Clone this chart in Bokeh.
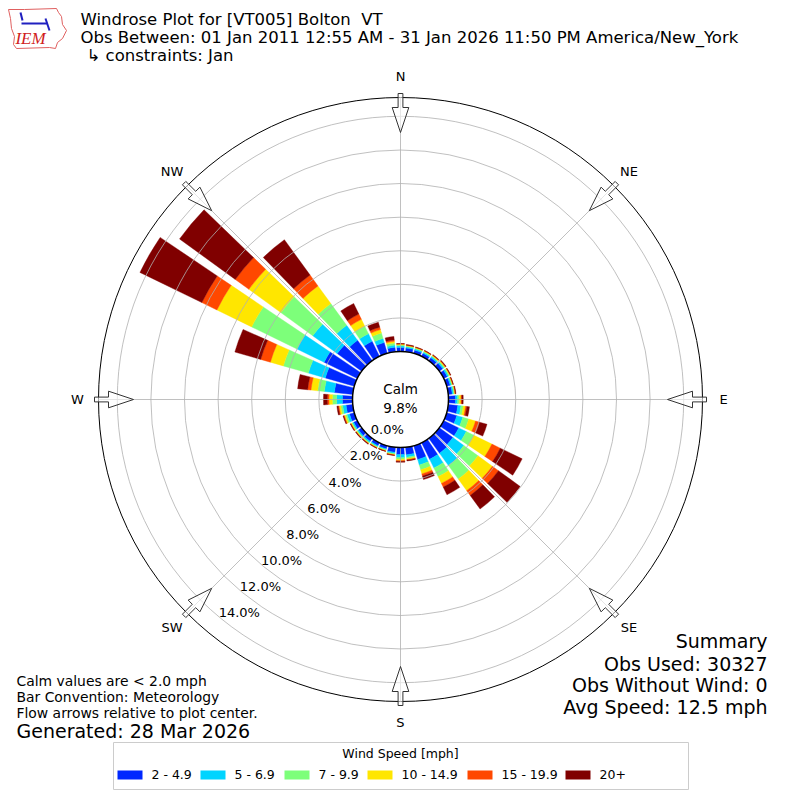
import numpy as np
from bokeh.plotting import figure
from bokeh.models import Range1d, ColumnDataSource
from bokeh.core.properties import value
from bokeh.embed import file_html
from bokeh.resources import INLINE

# ---------------- data ----------------
directions = [0, 10, 20, 30, 40, 50, 60, 70, 80, 90, 100, 110, 120, 130, 140, 150, 160, 170,
              180, 190, 200, 210, 220, 230, 240, 250, 260, 270, 280, 290, 300, 310, 320, 330, 340, 350]
speed_labels = ["2 - 4.9", "5 - 6.9", "7 - 9.9", "10 - 14.9", "15 - 19.9", "20+"]
speed_colors = ["#0028ff", "#00d4ff", "#7dff7a", "#ffe600", "#ff4800", "#800000"]

freq_2_4 = [0.24, 0.22, 0.20, 0.20, 0.22, 0.25, 0.24, 0.22, 0.24, 0.42, 0.57, 0.63, 1.00, 1.00, 1.10, 1.10, 0.86, 0.45,
            0.42, 0.30, 0.20, 0.20, 0.22, 0.23, 0.24, 0.30, 0.40, 0.60, 1.10, 1.80, 2.20, 1.80, 1.50, 1.00, 0.67, 0.27]
freq_5_6 = [0.10, 0.08, 0.08, 0.08, 0.08, 0.09, 0.09, 0.08, 0.08, 0.13, 0.19, 0.37, 0.50, 0.80, 0.90, 0.58, 0.34, 0.15,
            0.19, 0.08, 0.06, 0.07, 0.08, 0.08, 0.08, 0.15, 0.20, 0.35, 0.60, 1.05, 1.80, 1.80, 1.10, 0.50, 0.25, 0.13]
freq_7_9 = [0.06, 0.05, 0.05, 0.05, 0.05, 0.06, 0.06, 0.05, 0.06, 0.10, 0.14, 0.37, 0.50, 1.05, 1.00, 0.57, 0.30, 0.08,
            0.10, 0.05, 0.04, 0.04, 0.05, 0.05, 0.06, 0.10, 0.12, 0.25, 0.40, 1.55, 3.00, 2.35, 1.60, 0.50, 0.34, 0.13]
freq_10_14 = [0.04, 0.03, 0.03, 0.03, 0.04, 0.04, 0.04, 0.03, 0.03, 0.10, 0.13, 0.42, 1.20, 1.05, 0.85, 0.45, 0.25, 0.06,
              0.08, 0.03, 0.03, 0.03, 0.03, 0.04, 0.04, 0.07, 0.10, 0.20, 0.40, 0.80, 2.30, 2.35, 1.30, 0.45, 0.21, 0.10]
freq_15_19 = [0.02, 0.02, 0.02, 0.02, 0.02, 0.03, 0.02, 0.02, 0.02, 0.05, 0.08, 0.25, 0.55, 0.45, 0.35, 0.24, 0.13, 0.03,
              0.04, 0.02, 0.01, 0.02, 0.02, 0.02, 0.02, 0.04, 0.05, 0.10, 0.20, 0.60, 1.00, 1.00, 0.80, 0.35, 0.15, 0.08]
freq_20p = [0.02, 0.03, 0.02, 0.02, 0.03, 0.03, 0.03, 0.02, 0.03, 0.08, 0.16, 0.46, 1.45, 1.60, 1.00, 0.51, 0.22, 0.05,
            0.05, 0.02, 0.02, 0.02, 0.03, 0.03, 0.03, 0.04, 0.08, 0.23, 0.60, 1.60, 4.10, 4.10, 2.60, 0.70, 0.31, 0.21]

calm_pct = 9.8
ring_ticks = [0, 2, 4, 6, 8, 10, 12, 14]
ring_labels = ["0.0%", "2.0%", "4.0%", "6.0%", "8.0%", "10.0%", "12.0%", "14.0%"]
compass_labels = ["N", "NE", "E", "SE", "S", "SW", "W", "NW"]
compass_bearings = [0, 45, 90, 135, 180, 225, 270, 315]

title_lines = ["Windrose Plot for [VT005] Bolton\u00a0 VT",
               "Obs Between: 01 Jan 2011 12:55 AM - 31 Jan 2026 11:50 PM America/New_York",
               "\u21b3 constraints: Jan"]
notes_left = ["Calm values are < 2.0 mph", "Bar Convention: Meteorology",
              "Flow arrows relative to plot center."]
generated = "Generated: 28 Mar 2026"
summary_lines = ["Summary", "Obs Used: 30327", "Obs Without Wind: 0", "Avg Speed: 12.5 mph"]
legend_title = "Wind Speed [mph]"

# ---------------- geometry ----------------
S = 16.8          # pixels per percent
CX, CY = 400.0, 399.0
R0 = 48.0 / S     # calm hole radius (percent units)
R_OUT = 302.0 / S
BAR_W = 8.0       # degrees
W = H = 800


def X(px):
    return (px - CX) / S


def Y(py):
    return (CY - py) / S


FONT = value("DejaVu Sans")

p = figure(width=W, height=H, x_range=Range1d(X(0), X(W)), y_range=Range1d(Y(H), Y(0)),
           output_backend="svg", toolbar_location=None, min_border=0,
           x_axis_type=None, y_axis_type=None)
p.outline_line_color = None
p.background_fill_color = "white"
p.border_fill_color = "white"

# ---------------- bars ----------------
stack = np.array([freq_2_4, freq_5_6, freq_7_9, freq_10_14, freq_15_19, freq_20p])
cum = np.cumsum(stack, axis=0)
dirs = np.array(directions, dtype=float)
start = np.deg2rad(90.0 - dirs - BAR_W / 2)
end = np.deg2rad(90.0 - dirs + BAR_W / 2)
for j in range(6):
    inner = R0 + (cum[j - 1] if j > 0 else np.zeros(len(dirs)))
    outer = R0 + cum[j]
    src = ColumnDataSource(dict(x=np.zeros(len(dirs)), y=np.zeros(len(dirs)), ir=inner, orr=outer,
                                sa=start, ea=end))
    p.annular_wedge(x="x", y="y", inner_radius="ir", outer_radius="orr", start_angle="sa",
                    end_angle="ea", source=src, fill_color=speed_colors[j],
                    line_color=speed_colors[j], line_width=0.4)

# ---------------- grid ----------------
rt = np.array(ring_ticks, dtype=float)
p.circle(x=np.zeros(len(rt)), y=np.zeros(len(rt)), radius=R0 + rt, fill_color=None,
         line_color="#b0b0b0", line_width=0.8)
cb = np.deg2rad(np.array(compass_bearings, dtype=float))
p.segment(x0=R0 * np.sin(cb), y0=R0 * np.cos(cb), x1=R_OUT * np.sin(cb), y1=R_OUT * np.cos(cb),
          line_color="#b0b0b0", line_width=0.8)
p.circle(x=[0], y=[0], radius=R_OUT, fill_color=None, line_color="black", line_width=1)

# calm circle
p.circle(x=[0], y=[0], radius=R0, fill_color="white", line_color="black", line_width=1.5)
p.text(x=[0, 0], y=[Y(388), Y(407)], text=["Calm", f"{calm_pct:.1f}%"], text_font=FONT,
       text_font_size="13.5px", text_align="center", text_baseline="middle", text_color="black")

# ring labels: ring point on bearing 219 deg, shifted by a small pixel offset
lb = np.deg2rad(219.0)
lr = R0 + rt
p.text(x=lr * np.sin(lb) + 17.0 / S, y=lr * np.cos(lb) + 7.0 / S, text=ring_labels, text_font=FONT,
       text_font_size="13px", text_align="center", text_baseline="middle", text_color="black")

# compass labels
cr = 323.0 / S
p.text(x=cr * np.sin(cb), y=cr * np.cos(cb), text=compass_labels, text_font=FONT,
       text_font_size="13px", text_align="center", text_baseline="middle", text_color="black")

# flow arrows (pointing toward center)
r_tail, r_base, r_tip = 306.0 / S, 292.0 / S, 267.0 / S
w_shaft, w_head = 2.4 / S, 8.3 / S
local = [(r_tail, -w_shaft), (r_tail, w_shaft), (r_base, w_shaft), (r_base, w_head), (r_tip, 0.0),
         (r_base, -w_head), (r_base, -w_shaft)]
axs, ays = [], []
for b in cb:
    ux, uy = np.sin(b), np.cos(b)
    vx, vy = np.cos(b), -np.sin(b)
    axs.append([r * ux + w * vx for r, w in local])
    ays.append([r * uy + w * vy for r, w in local])
p.patches(xs=axs, ys=ays, fill_color="white", fill_alpha=0.6, line_color="#333333", line_width=1)

# ---------------- titles ----------------
p.text(x=[X(80), X(80), X(86)], y=[Y(19), Y(37), Y(55)], text=title_lines, text_font=FONT,
       text_font_size="16.5px", text_align="left", text_baseline="middle", text_color="black")

# logo (IEM)
logo_x = [8, 24, 56, 58, 61, 62, 66, 62, 57, 55, 49, 16, 13, 14, 11, 10, 8]
logo_y = [9, 9, 8, 12, 16, 24, 30, 38, 42, 48, 47, 48, 44, 36, 28, 18, 9]
p.patch(x=[X(v) for v in logo_x], y=[Y(v) for v in logo_y], fill_color=None,
        line_color="#e06060", line_width=1)
p.segment(x0=[X(21), X(20), X(45)], y0=[Y(23), Y(12), Y(18)], x1=[X(47), X(22), X(49)],
          y1=[Y(23), Y(20), Y(30)], line_color="#2020c0", line_width=2)
p.text(x=[X(30)], y=[Y(38)], text=["IEM"], text_font=value("Liberation Serif"),
       text_font_style="italic", text_font_size="17px", text_align="center",
       text_baseline="middle", text_color="#d02020")

# ---------------- notes ----------------
p.text(x=[X(16)] * 3, y=[Y(680), Y(696), Y(712)], text=notes_left, text_font=FONT,
       text_font_size="13.9px", text_align="left", text_baseline="middle", text_color="black")
p.text(x=[X(16)], y=[Y(730)], text=[generated], text_font=FONT, text_font_size="19px",
       text_align="left", text_baseline="middle", text_color="black")
p.text(x=[X(767)] * 4, y=[Y(640), Y(663), Y(684), Y(706)], text=summary_lines, text_font=FONT,
       text_font_size="19px", text_align="right", text_baseline="middle", text_color="black")

# ---------------- legend ----------------
p.quad(left=[X(113)], right=[X(688)], bottom=[Y(789)], top=[Y(742)], fill_color="white",
       fill_alpha=0.8, line_color="#cccccc", line_width=1)
p.text(x=[X(400)], y=[Y(753)], text=[legend_title], text_font=FONT, text_font_size="12.5px",
       text_align="center", text_baseline="middle", text_color="black")
leg_patch_px = [117, 200, 284, 367, 467, 565]
leg_w_px = 25
p.quad(left=[X(v) for v in leg_patch_px], right=[X(v + leg_w_px) for v in leg_patch_px],
       bottom=[Y(779)] * 6, top=[Y(770)] * 6, fill_color=speed_colors, line_color=None)
p.text(x=[X(v + leg_w_px + 9) for v in leg_patch_px], y=[Y(774)] * 6, text=speed_labels,
       text_font=FONT, text_font_size="12.5px", text_align="left", text_baseline="middle",
       text_color="black")

open("out.html", "w").write(file_html(p, INLINE))
